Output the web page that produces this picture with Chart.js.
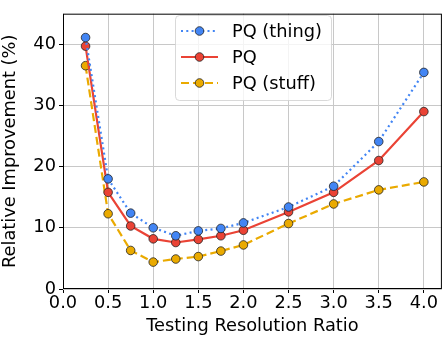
<!DOCTYPE html>
<html>
<head>
<meta charset="utf-8">
<script src="https://cdn.jsdelivr.net/npm/chart.js@4/dist/chart.umd.min.js"></script>
<style>
html,body{margin:0;padding:0;background:#fff;}
#wrap{width:447px;height:339px;position:relative;}
</style>
</head>
<body>
<div id="wrap"><canvas id="c" width="447" height="339"></canvas></div>
<script>
const ratios = [0.25, 0.5, 0.75, 1.0, 1.25, 1.5, 1.75, 2.0, 2.5, 3.0, 3.5, 4.0];
const pqThing = [41.1, 18.0, 12.4, 10.0, 8.7, 9.5, 9.9, 10.8, 13.4, 16.8, 24.1, 35.4];
const pq      = [39.7, 15.8, 10.3, 8.2, 7.6, 8.1, 8.7, 9.6, 12.6, 15.8, 21.0, 29.0];
const pqStuff = [36.5, 12.3, 6.3, 4.4, 4.9, 5.3, 6.2, 7.2, 10.7, 13.9, 16.2, 17.5];
const xTicks = [0.0, 0.5, 1.0, 1.5, 2.0, 2.5, 3.0, 3.5, 4.0];
const yTicks = [0, 10, 20, 30, 40];
const seriesNames = ['PQ (thing)', 'PQ', 'PQ (stuff)'];

const FONT = "'DejaVu Sans', sans-serif";
const FS = 17.8;
const colors = ['#4285F4', '#EA4335', '#EAAA00'];
const dashes = [[2, 3.3], [], [8, 4]];
const seriesData = [pqThing, pq, pqStuff];

function pts(vals){ return ratios.map((x,i)=>({x:x, y:vals[i]})); }

const datasets = seriesData.map((vals, i) => ({
  label: seriesNames[i],
  data: pts(vals),
  showLine: true,
  borderColor: colors[i],
  backgroundColor: colors[i],
  borderWidth: 2.2,
  borderDash: dashes[i],
  pointRadius: 4.3,
  pointBorderColor: '#222',
  pointBorderWidth: 0.8,
  pointBackgroundColor: colors[i],
  tension: 0
}));

const framePlugin = {
  id: 'frame',
  afterDatasetsDraw(chart){
    const {ctx, chartArea:a} = chart;
    ctx.save();
    ctx.strokeStyle = '#000';
    ctx.lineWidth = 1;
    ctx.strokeRect(a.left+0.5, a.top+0.5, a.right-a.left-1, a.bottom-a.top-1);
    ctx.restore();
  }
};

const legendPlugin = {
  id: 'customLegend',
  afterDraw(chart){
    const ctx = chart.ctx;
    const bx = 175, by = 15, bw = 156, bh = 85;
    ctx.save();
    ctx.globalAlpha = 0.8;
    ctx.fillStyle = '#fff';
    ctx.strokeStyle = '#d0d0d0';
    ctx.lineWidth = 1;
    ctx.beginPath();
    ctx.roundRect(bx+0.5, by+0.5, bw, bh, 4);
    ctx.fill();
    ctx.stroke();
    ctx.globalAlpha = 1;
    const rows = [31, 57, 83];
    rows.forEach((y, i) => {
      ctx.strokeStyle = colors[i];
      ctx.lineWidth = 2.2;
      ctx.setLineDash(dashes[i]);
      ctx.beginPath();
      ctx.moveTo(181, y);
      ctx.lineTo(218, y);
      ctx.stroke();
      ctx.setLineDash([]);
      ctx.beginPath();
      ctx.arc(199.5, y, 4.3, 0, Math.PI*2);
      ctx.fillStyle = colors[i];
      ctx.fill();
      ctx.strokeStyle = '#222';
      ctx.lineWidth = 0.8;
      ctx.stroke();
      ctx.fillStyle = '#000';
      ctx.font = FS + 'px ' + FONT;
      ctx.textBaseline = 'middle';
      ctx.textAlign = 'left';
      ctx.fillText(seriesNames[i], 232, y + 1);
    });
    ctx.restore();
  }
};

new Chart(document.getElementById('c'), {
  type: 'scatter',
  data: { datasets },
  options: {
    responsive: false,
    animation: false,
    devicePixelRatio: 1,
    layout: { padding: { left: 0, right: 5, top: 6, bottom: 0 } },
    plugins: { legend: { display: false }, tooltip: { enabled: false } },
    scales: {
      x: {
        type: 'linear',
        min: 0, max: 4.2,
        afterBuildTicks(axis){ axis.ticks = xTicks.map(v=>({value:v})); },
        afterFit(axis){ axis.height = 50; },
        ticks: {
          color: '#000', font: { family: FONT, size: FS }, padding: 0,
          maxRotation: 0, autoSkip: false,
          callback: v => Number(v).toFixed(1)
        },
        grid: { color: '#c8c8c8', lineWidth: 1, tickColor: '#000', tickLength: 4 },
        border: { display: false },
        title: { display: true, text: 'Testing Resolution Ratio', color: '#000',
                 font: { family: FONT, size: FS }, padding: { top: 0, bottom: 2 } }
      },
      y: {
        min: 0, max: 45,
        afterBuildTicks(axis){ axis.ticks = yTicks.map(v=>({value:v})); },
        afterFit(axis){ axis.width = 63; },
        ticks: { color: '#000', font: { family: FONT, size: FS }, padding: 3 },
        grid: { color: '#c8c8c8', lineWidth: 1, tickColor: '#000', tickLength: 4 },
        border: { display: false },
        title: { display: true, text: 'Relative Improvement (%)', color: '#000',
                 font: { family: FONT, size: FS }, padding: { top: 0, bottom: 2 } }
      }
    }
  },
  plugins: [framePlugin, legendPlugin]
});
</script>
</body>
</html>
